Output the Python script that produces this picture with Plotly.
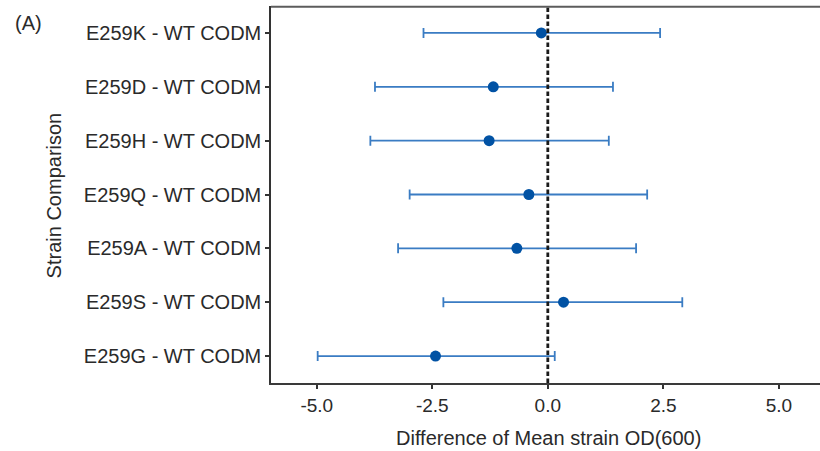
import plotly.graph_objects as go

comparisons = ["E259K - WT CODM", "E259D - WT CODM", "E259H - WT CODM",
               "E259Q - WT CODM", "E259A - WT CODM", "E259S - WT CODM",
               "E259G - WT CODM"]
diff = [-0.14, -1.18, -1.27, -0.41, -0.67, 0.34, -2.43]
lower = [-2.69, -3.74, -3.84, -2.99, -3.24, -2.26, -4.98]
upper = [2.43, 1.41, 1.32, 2.15, 1.91, 2.91, 0.15]
x_tickvals = [-5.0, -2.5, 0.0, 2.5, 5.0]
x_ticktext = ["-5.0", "-2.5", "0.0", "2.5", "5.0"]

FONT = "Liberation Sans, Arial, sans-serif"
TXT = "#2a2a2a"

err_plus = [u - d for u, d in zip(upper, diff)]
err_minus = [d - l for d, l in zip(diff, lower)]

fig = go.Figure()
fig.add_trace(go.Scatter(
    x=diff, y=comparisons, mode="markers",
    marker=dict(color="#0152a4", size=11, line=dict(width=0)),
    error_x=dict(type="data", array=err_plus, arrayminus=err_minus,
                 color="#3a7cc3", thickness=1.8, width=5),
    showlegend=False, hoverinfo="x+y"))

fig.add_vline(x=0, line=dict(color="#1a1a1a", width=2.8, dash="4.5px,2.5px"), layer="above")

# top border of panel
fig.add_shape(type="line", xref="paper", yref="paper", x0=0, x1=1, y0=0.998, y1=0.998,
              line=dict(color="#5c5c5c", width=2), layer="above")

fig.update_layout(
    width=820, height=451,
    margin=dict(l=271, r=0, t=6, b=68),
    paper_bgcolor="white", plot_bgcolor="white",
    font=dict(family=FONT, size=20, color=TXT),
    xaxis=dict(range=[-5.99, 5.89], tickvals=x_tickvals, ticktext=x_ticktext,
               showgrid=False, zeroline=False, showline=True,
               linecolor="#3a3a3a", linewidth=1.8, ticks="outside", ticklen=4,
               tickwidth=1.5, tickcolor="#333333",
               tickfont=dict(size=19, color=TXT, family=FONT)),
    yaxis=dict(type="category", categoryorder="array", categoryarray=comparisons,
               range=[6.5, -0.5], showgrid=False, zeroline=False, showline=True,
               linecolor="#333333", linewidth=1.5, ticks="outside", ticklen=4,
               tickwidth=1.5, tickcolor="#333333",
               tickfont=dict(size=20, color=TXT, family=FONT)),
    annotations=[
        dict(text="Difference of Mean strain OD(600)", xref="paper", yref="paper",
             x=0.506, y=-0.1453, xanchor="center", yanchor="middle", showarrow=False,
             font=dict(size=20, color=TXT, family=FONT)),
        dict(text="Strain Comparison", xref="paper", yref="paper",
             x=-0.395, y=0.498, xanchor="center", yanchor="middle", textangle=-90,
             showarrow=False, font=dict(size=20, color=TXT, family=FONT)),
        dict(text="(A)", xref="paper", yref="paper", x=-0.4426, y=0.956,
             xanchor="center", yanchor="middle", showarrow=False,
             font=dict(size=20, color=TXT, family=FONT)),
    ],
)

fig.write_html("out.html", config={"displayModeBar": False},
               post_script="document.body.style.margin='0';document.body.style.overflow='hidden';")
